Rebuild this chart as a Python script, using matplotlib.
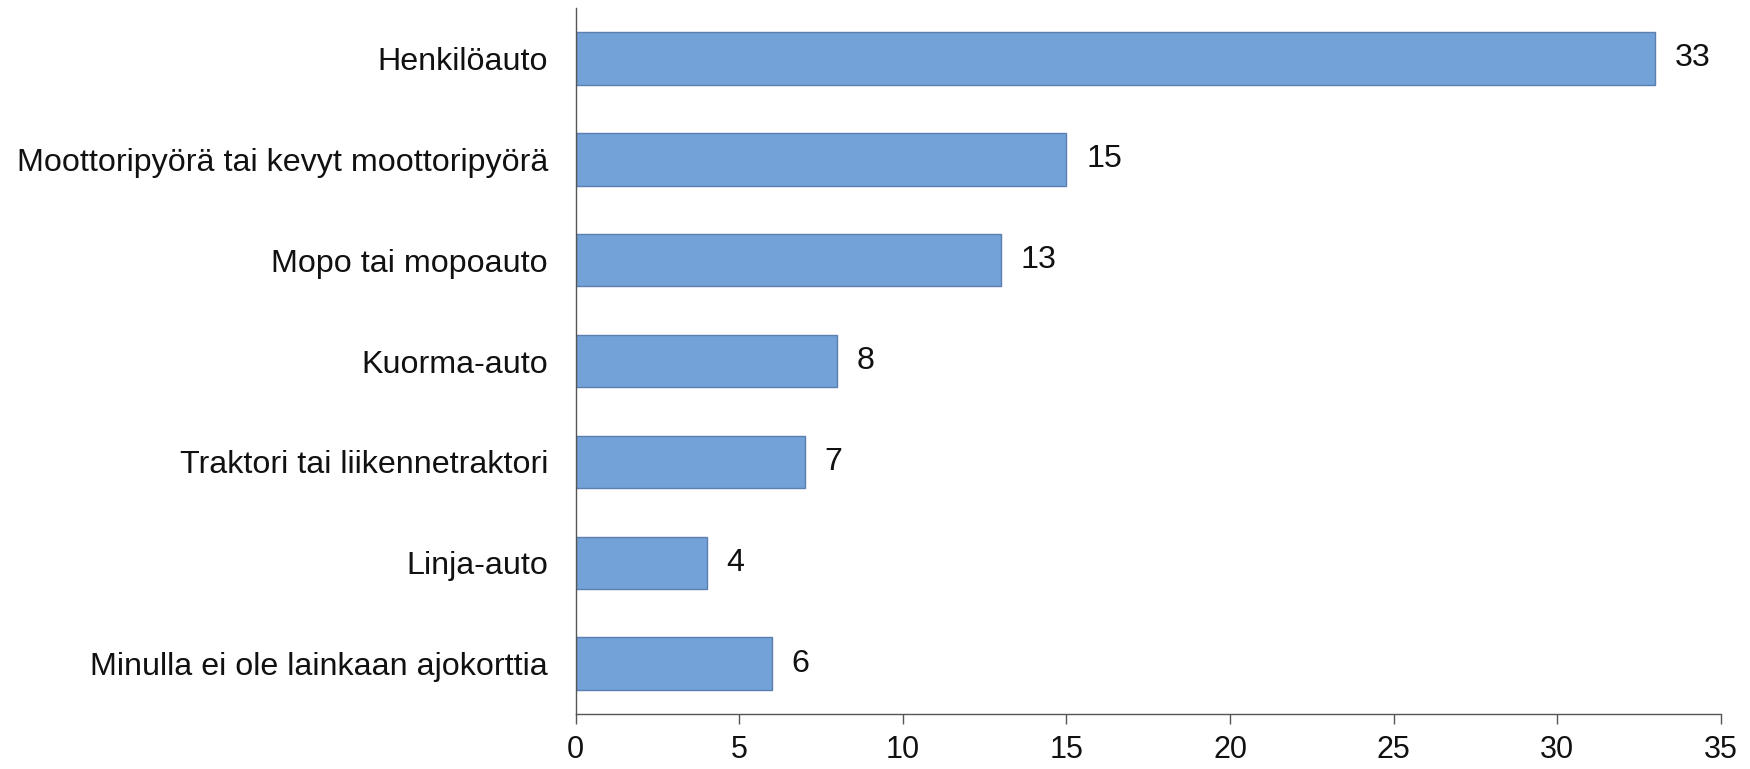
import matplotlib
matplotlib.use("Agg")
import matplotlib.pyplot as plt

categories = [
    "Henkilöauto",
    "Moottoripyörä tai kevyt moottoripyörä",
    "Mopo tai mopoauto",
    "Kuorma-auto",
    "Traktori tai liikennetraktori",
    "Linja-auto",
    "Minulla ei ole lainkaan ajokorttia",
]
values = [33, 15, 13, 8, 7, 4, 6]
x_ticks = [0, 5, 10, 15, 20, 25, 30, 35]

BAR = "#72a2d8"
BAR_EDGE = "#5b7fae"
AXIS = "#555555"
TEXT = "#111111"
FS = 23.2

plt.rcParams.update({
    "font.family": ["Liberation Sans", "DejaVu Sans"],
    "font.size": FS,
    "text.color": TEXT,
})

fig = plt.figure(figsize=(17.5, 7.69), dpi=100)
ax = fig.add_axes([0.329, 0.0715, 0.6543, 0.918])

pos = list(range(len(categories)))
ax.barh(pos, values, height=0.52, color=BAR, edgecolor=BAR_EDGE, linewidth=1)
for p, v in zip(pos, values):
    ax.text(v + 0.6, p, str(v), ha="left", va="center", fontsize=FS, color=TEXT)

ax.set_ylim(len(categories) - 0.5, -0.5)
ax.set_xlim(0, 35)
ax.set_yticks(pos)
ax.set_yticklabels(categories)
ax.set_xticks(x_ticks)

for spine in ("top", "right"):
    ax.spines[spine].set_visible(False)
for spine in ("left", "bottom"):
    ax.spines[spine].set_color(AXIS)
    ax.spines[spine].set_linewidth(1)
ax.tick_params(axis="y", length=0, pad=20, labelsize=FS, colors=TEXT)
ax.tick_params(axis="x", length=7, width=1, color=AXIS, direction="out", pad=8,
               labelsize=22, labelcolor=TEXT)

fig.savefig("out.png", dpi=100)
